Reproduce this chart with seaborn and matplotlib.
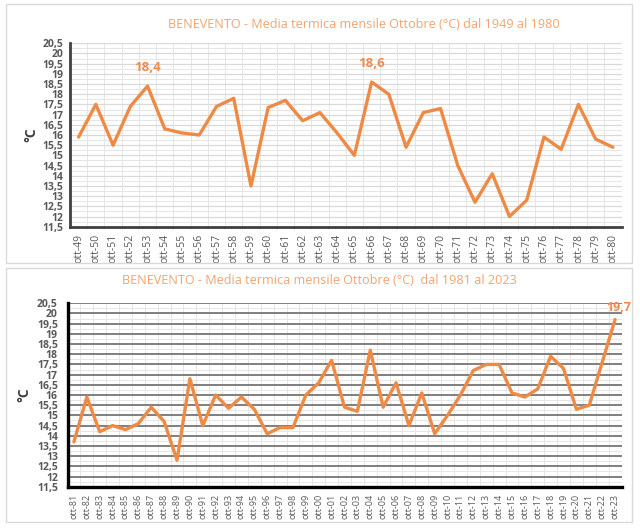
import matplotlib
matplotlib.use("Agg")
import matplotlib.pyplot as plt
from matplotlib.patches import Rectangle
from matplotlib.ticker import MultipleLocator, FixedLocator
import seaborn as sns
import pandas as pd
import numpy as np

sns.set_style("white")
plt.rcParams['font.family'] = ['Open Sans', 'DejaVu Sans']

# ---------- data ----------
labels_1 = ["ott-49", "ott-50", "ott-51", "ott-52", "ott-53", "ott-54", "ott-55", "ott-56",
            "ott-57", "ott-58", "ott-59", "ott-60", "ott-61", "ott-62", "ott-63", "ott-64",
            "ott-65", "ott-66", "ott-67", "ott-68", "ott-69", "ott-70", "ott-71", "ott-72",
            "ott-73", "ott-74", "ott-75", "ott-76", "ott-77", "ott-78", "ott-79", "ott-80"]
temps_1 = [15.9, 17.5, 15.5, 17.4, 18.4, 16.3, 16.1, 16.0,
           17.4, 17.8, 13.5, 17.35, 17.7, 16.7, 17.1, 16.1,
           15.0, 18.6, 18.0, 15.4, 17.1, 17.3, 14.5, 12.7,
           14.1, 12.0, 12.8, 15.9, 15.3, 17.5, 15.8, 15.4]

labels_2 = ["ott-81", "ott-82", "ott-83", "ott-84", "ott-85", "ott-86", "ott-87", "ott-88",
            "ott-89", "ott-90", "ott-91", "ott-92", "ott-93", "ott-94", "ott-95", "ott-96",
            "ott-97", "ott-98", "ott-99", "ott-00", "ott-01", "ott-02", "ott-03", "ott-04",
            "ott-05", "ott-06", "ott-07", "ott-08", "ott-09", "ott-10", "ott-11", "ott-12",
            "ott-13", "ott-14", "ott-15", "ott-16", "ott-17", "ott-18", "ott-19", "ott-20",
            "ott-21", "ott-22", "ott-23"]
temps_2 = [13.7, 15.9, 14.2, 14.5, 14.3, 14.6, 15.4, 14.7,
           12.8, 16.8, 14.5, 16.0, 15.35, 15.9, 15.3, 14.1,
           14.4, 14.4, 16.0, 16.6, 17.7, 15.4, 15.2, 18.2,
           15.4, 16.6, 14.5, 16.1, 14.1, 15.0, 16.0, 17.2,
           17.5, 17.5, 16.1, 15.9, 16.3, 17.9, 17.3, 15.3,
           15.5, 17.6, 19.7]

title_1 = "BENEVENTO - Media termica mensile Ottobre (°C) dal 1949 al 1980"
title_2 = "BENEVENTO - Media termica mensile Ottobre (°C)  dal 1981 al 2023"
y_ticks = np.arange(11.5, 20.51, 0.5)
y_ticklabels = [(f"{v:g}").replace(".", ",") for v in y_ticks]

LINE = "#EF8A45"
TITLE = "#F2A46E"
LABEL = "#F08A4B"
TICKC = "#595959"

W, H = 640, 528
fig = plt.figure(figsize=(6.4, 5.28), dpi=100)
fig.patch.set_facecolor("white")

# card borders
for (x0, y0, x1, y1) in [(6, 4, 632, 263), (6, 268, 632, 522)]:
    fig.patches.append(Rectangle((x0 / W, 1 - y1 / H), (x1 - x0) / W, (y1 - y0) / H,
                                 transform=fig.transFigure, fill=False,
                                 edgecolor="#D9D9D9", lw=1.0))


def make_axes(px_left, px_right, px_top, px_bottom):
    return fig.add_axes([px_left / W, 1 - px_bottom / H,
                         (px_right - px_left) / W, (px_bottom - px_top) / H])


def style_axes(ax, labels, dark_grid, spine_col, spine_lw, xfs, ypad, ylpad):
    n = len(labels)
    ax.set_xlim(-0.5, n - 0.5)
    ax.set_ylim(11.5, 20.5)
    ax.set_yticks(y_ticks)
    ax.set_yticklabels(y_ticklabels, fontsize=7.5, color=TICKC, fontweight="bold")
    ax.set_xticks(np.arange(n))
    ax.set_xticklabels(labels, rotation=90, fontsize=xfs, color=TICKC)
    ax.tick_params(axis="x", length=0, pad=5)
    ax.tick_params(axis="y", length=0, pad=ypad)
    # minor gridlines
    ax.xaxis.set_minor_locator(FixedLocator(np.arange(-0.5, n, 0.5)))
    ax.yaxis.set_minor_locator(MultipleLocator(0.25))
    ax.grid(which="minor", color="#E6E6E6", lw=0.7)
    if dark_grid:
        ax.grid(which="major", axis="y", color="#7F7F7F", lw=1.4)
    else:
        ax.grid(which="major", axis="y", color="#D9D9D9", lw=0.9)
    ax.grid(which="major", axis="x", visible=False)
    ax.set_axisbelow(True)
    for s in ["top", "right"]:
        ax.spines[s].set_visible(False)
    for s in ["left", "bottom"]:
        ax.spines[s].set_color(spine_col)
        ax.spines[s].set_linewidth(spine_lw)
    # tick marks on category boundaries
    for b in np.arange(0.5, n - 0.5, 1.0):
        ax.plot([b, b], [11.5, 11.5 - 0.12], color=spine_col, lw=1.2,
                clip_on=False, solid_capstyle="butt")
    ax.set_ylabel("°C", fontsize=10, fontweight="bold", color="#404040", labelpad=ylpad)
    ax.set_xlabel("")


# ---------- top chart ----------
ax1 = make_axes(70, 621.5, 43.3, 226.7)
df1 = pd.DataFrame({"pos": np.arange(len(labels_1)), "temp": temps_1})
sns.lineplot(data=df1, x="pos", y="temp", ax=ax1, color=LINE, lw=2.4)
style_axes(ax1, labels_1, False, "#404040", 2.0, 7.5, 5, 3)
ax1.annotate("18,4", (4, 18.4), xytext=(0, 9), textcoords="offset points",
             ha="center", va="bottom", color=LABEL, fontsize=9.5, fontweight="bold")
ax1.annotate("18,6", (17, 18.6), xytext=(0, 9), textcoords="offset points",
             ha="center", va="bottom", color=LABEL, fontsize=9.5, fontweight="bold")
fig.text(364 / W, 1 - 24 / H, title_1, ha="center", va="center", color=TITLE, fontsize=9.1)

# ---------- bottom chart ----------
ax2 = make_axes(67.5, 621.5, 303.3, 486.7)
df2 = pd.DataFrame({"pos": np.arange(len(labels_2)), "temp": temps_2})
sns.lineplot(data=df2, x="pos", y="temp", ax=ax2, color=LINE, lw=2.4)
style_axes(ax2, labels_2, True, "#000000", 2.4, 6.5, 7, 4)
ax2.annotate("19,7", (42, 19.7), xytext=(3, 4), textcoords="offset points",
             ha="center", va="bottom", color=LABEL, fontsize=9, fontweight="bold",
             annotation_clip=False)
fig.text(319 / W, 1 - 281 / H, title_2, ha="center", va="center", color=TITLE, fontsize=9.1)

fig.savefig("out.png", dpi=100, facecolor="white")
